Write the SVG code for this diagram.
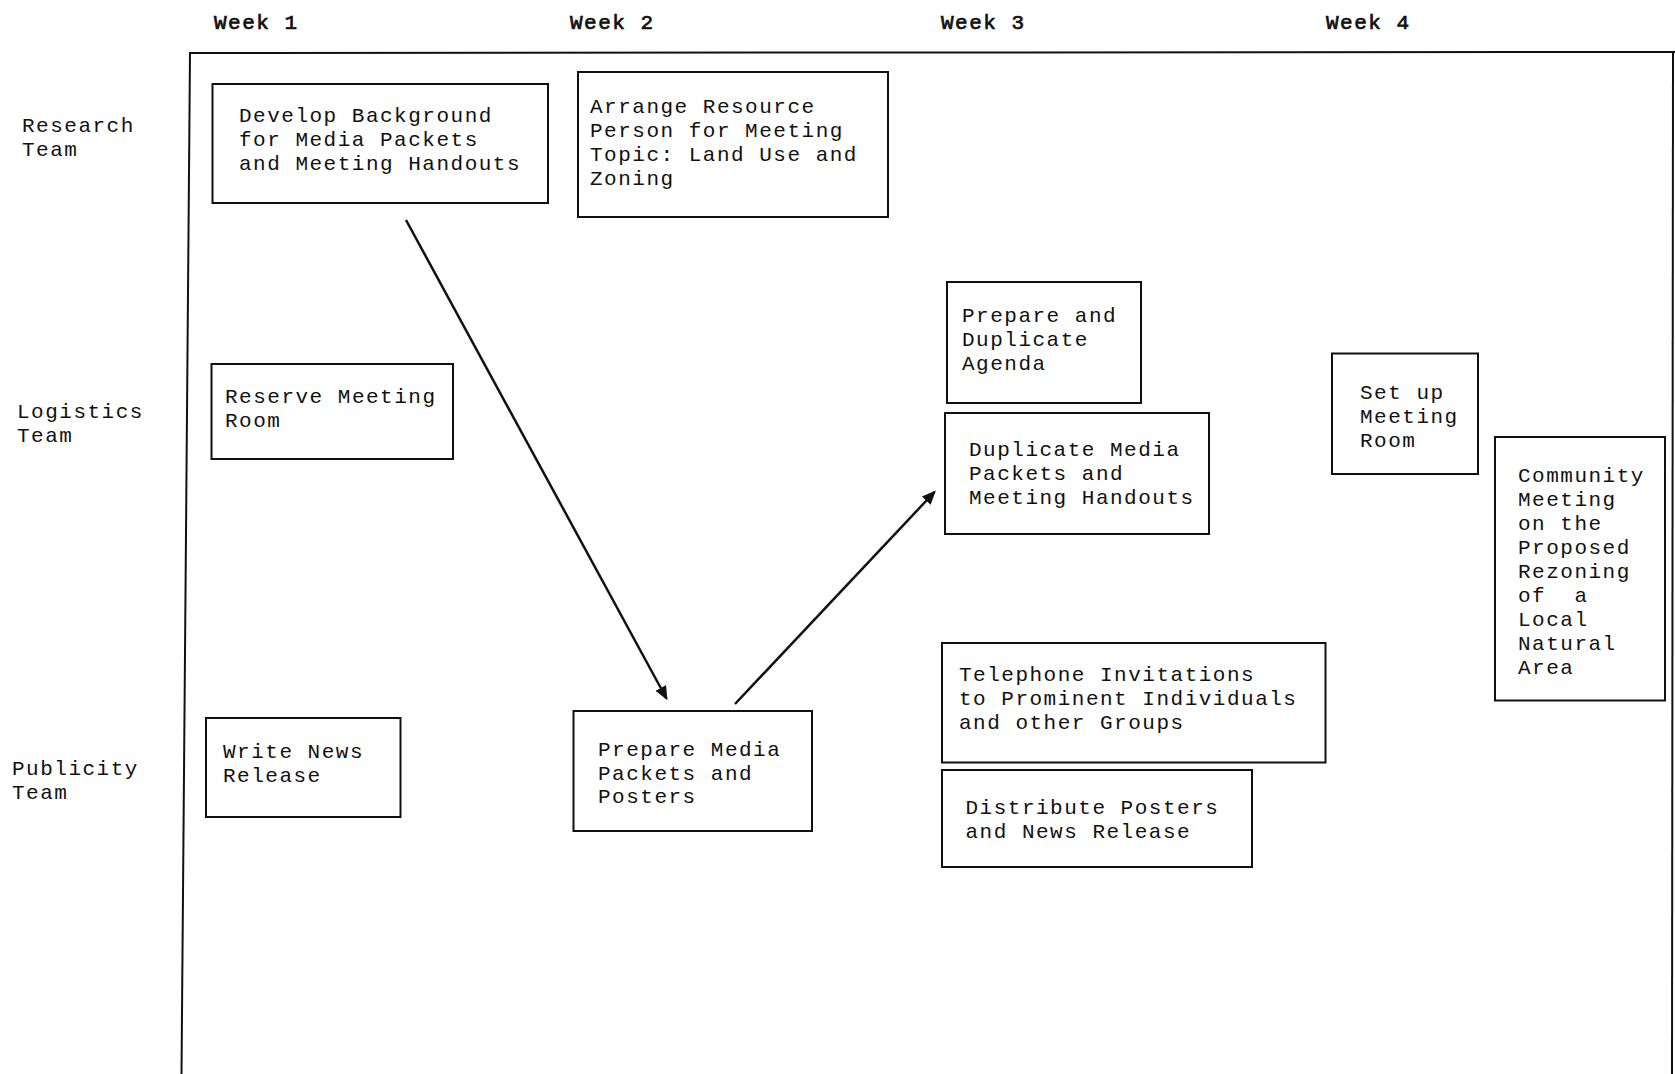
<svg xmlns="http://www.w3.org/2000/svg" width="1675" height="1074" viewBox="0 0 1675 1074">
<defs>
<style>
text{font-family:"Liberation Mono","DejaVu Sans Mono",monospace;font-size:21px;letter-spacing:1.5px;fill:#111}
.wk{stroke:#111;stroke-width:0.7}
.box{fill:none;stroke:#111;stroke-width:2}
.frame{fill:none;stroke:#111;stroke-width:2}
.conn{stroke:#111;stroke-width:2.5;fill:none}
</style>
<marker id="ah" markerWidth="14" markerHeight="12" refX="12" refY="6" orient="auto" markerUnits="userSpaceOnUse">
<path d="M0,0 L14,6 L0,12 z" fill="#111"/>
</marker>
</defs>
<rect width="1675" height="1074" fill="#fff"/>
<g id="frame">
<path class="frame" d="M181.5,1074 L190,53 L1675,52"/>
<line class="frame" x1="1673" y1="52" x2="1672" y2="1074"/>
</g>
<g id="headers">
<text class="wk" x="214" y="29">Week 1</text>
<text class="wk" x="570" y="29">Week 2</text>
<text class="wk" x="941" y="29">Week 3</text>
<text class="wk" x="1326" y="29">Week 4</text>
<text x="22" y="132">Research</text>
<text x="22" y="156">Team</text>
<text x="17" y="418">Logistics</text>
<text x="17" y="442">Team</text>
<text x="12" y="775">Publicity</text>
<text x="12" y="799">Team</text>
</g>
<g id="n-develop">
<rect class="box" x="212.5" y="84" width="335.5" height="119"/>
<text x="239" y="122">Develop Background</text>
<text x="239" y="146">for Media Packets</text>
<text x="239" y="170">and Meeting Handouts</text>
</g>
<g id="n-arrange">
<rect class="box" x="578" y="72" width="310" height="145"/>
<text x="590" y="113">Arrange Resource</text>
<text x="590" y="137">Person for Meeting</text>
<text x="590" y="161">Topic: Land Use and</text>
<text x="590" y="185">Zoning</text>
</g>
<g id="n-reserve">
<rect class="box" x="211.5" y="364" width="241.5" height="95"/>
<text x="225" y="403">Reserve Meeting</text>
<text x="225" y="427">Room</text>
</g>
<g id="n-write">
<rect class="box" x="206" y="718" width="194.5" height="99"/>
<text x="223" y="758">Write News</text>
<text x="223" y="782">Release</text>
</g>
<g id="n-prepmedia">
<rect class="box" x="573.5" y="711" width="238.5" height="120"/>
<text x="598" y="756">Prepare Media</text>
<text x="598" y="780">Packets and</text>
<text x="598" y="803">Posters</text>
</g>
<g id="n-agenda">
<rect class="box" x="947" y="282" width="194" height="121"/>
<text x="962" y="322">Prepare and</text>
<text x="962" y="346">Duplicate</text>
<text x="962" y="370">Agenda</text>
</g>
<g id="n-dupmedia">
<rect class="box" x="945" y="413" width="264" height="121"/>
<text x="969" y="456">Duplicate Media</text>
<text x="969" y="480">Packets and</text>
<text x="969" y="504">Meeting Handouts</text>
</g>
<g id="n-setup">
<rect class="box" x="1332" y="353.5" width="146" height="120.5"/>
<text x="1360" y="399">Set up</text>
<text x="1360" y="423">Meeting</text>
<text x="1360" y="447">Room</text>
</g>
<g id="n-community">
<rect class="box" x="1495" y="437" width="170" height="263.5"/>
<text x="1518" y="482">Community</text>
<text x="1518" y="506">Meeting</text>
<text x="1518" y="530">on the</text>
<text x="1518" y="554">Proposed</text>
<text x="1518" y="578">Rezoning</text>
<text x="1518" y="602" xml:space="preserve">of  a</text>
<text x="1518" y="626">Local</text>
<text x="1518" y="650">Natural</text>
<text x="1518" y="674">Area</text>
</g>
<g id="n-telephone">
<rect class="box" x="942" y="643" width="383.5" height="119.5"/>
<text x="959" y="681">Telephone Invitations</text>
<text x="959" y="705">to Prominent Individuals</text>
<text x="959" y="729">and other Groups</text>
</g>
<g id="n-distribute">
<rect class="box" x="942" y="770" width="310" height="97"/>
<text x="965.5" y="814">Distribute Posters</text>
<text x="965.5" y="838">and News Release</text>
</g>
<g id="connectors">
<line class="conn" x1="406" y1="220" x2="666.5" y2="698.5" marker-end="url(#ah)"/>
<line class="conn" x1="735" y1="704" x2="934.5" y2="492" marker-end="url(#ah)"/>
</g>
</svg>
